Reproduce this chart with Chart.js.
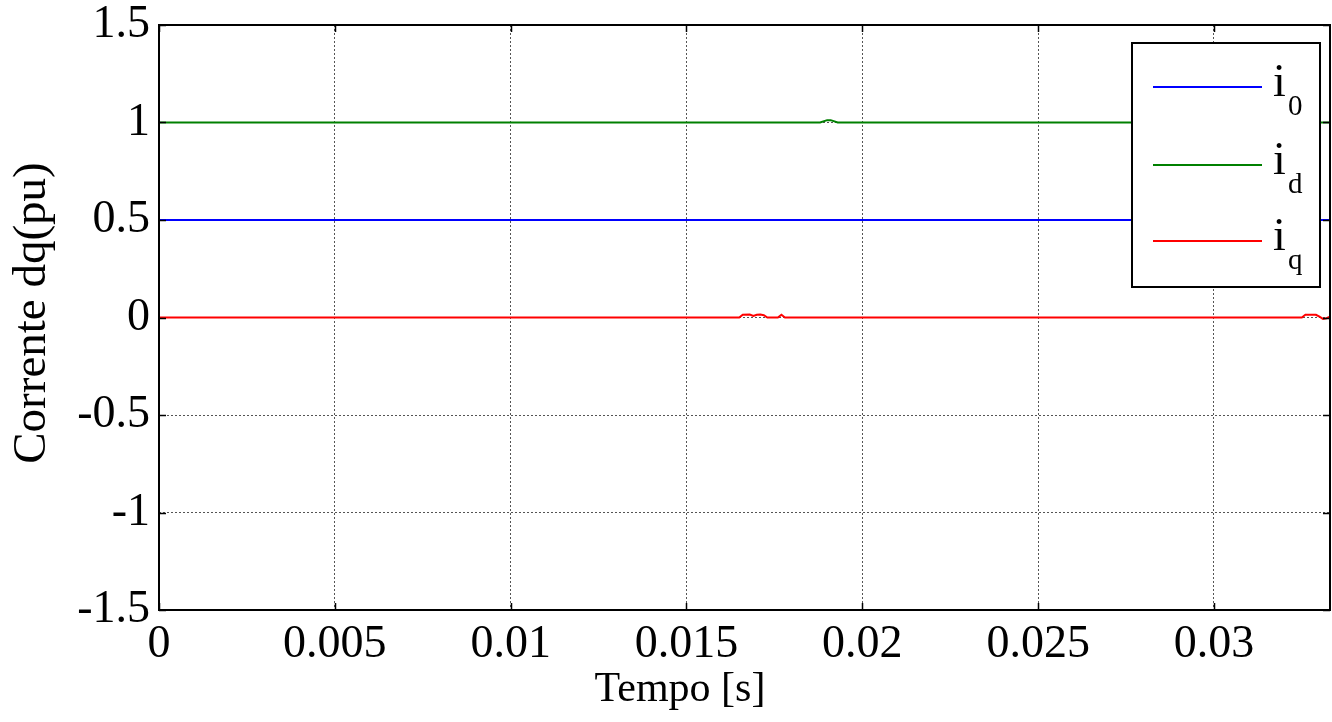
<!DOCTYPE html>
<html>
<head>
<meta charset="utf-8">
<script src="https://cdn.jsdelivr.net/npm/chart.js@4/dist/chart.umd.min.js"></script>
<style>
    html, body { margin: 0; padding: 0; background: #fff; }
    #wrap { width: 1332px; height: 722px; }
</style>
</head>
<body>
<div id="wrap"><canvas id="dqChart" width="1332" height="722"></canvas></div>
<script>
// Time samples and values
const tI0 = [0, 0.0333];
const i0 = [0.5, 0.5];

const tId = [0, 0.0188, 0.0190, 0.0191, 0.0193, 0.0333];
const id = [1, 1, 1.012, 1.012, 1, 1];

const tIq = [0, 0.0165, 0.0166, 0.0168, 0.0169, 0.0170, 0.0171, 0.0172, 0.0173,
    0.0176, 0.0177, 0.0178, 0.0325, 0.0326, 0.0329, 0.0330, 0.0331, 0.0332, 0.0333];
const iq = [0, 0, 0.014, 0.015, 0.008, 0.014, 0.015, 0.012, 0,
    0, 0.014, 0, 0, 0.014, 0.014, 0.004, -0.007, -0.004, 0.004];

const xTickValues = [0, 0.005, 0.01, 0.015, 0.02, 0.025, 0.03];
const xTickLabels = ['0', '0.005', '0.01', '0.015', '0.02', '0.025', '0.03'];
const yTickValues = [-1.5, -1, -0.5, 0, 0.5, 1, 1.5];
const yTickLabels = ['-1.5', '-1', '-0.5', '0', '0.5', '1', '1.5'];

const seriesNames = ['0', 'd', 'q'];
const seriesColors = ['#0000ff', '#008000', '#ff0000'];

const xTitle = 'Tempo [s]';
const yTitle = 'Corrente dq(pu)';

const serif = '"Liberation Serif", "Times New Roman", serif';

function toPoints(xs, ys) {
    return xs.map((x, i) => ({ x: x, y: ys[i] }));
}

// axes box, inward ticks, axis labels and the legend, matlab style
const axesBox = {
    id: 'axesBox',
    afterDraw(chart) {
        const ctx = chart.ctx;
        const a = chart.chartArea;
        const xs = chart.scales.x;
        const ys = chart.scales.y;
        ctx.save();
        ctx.strokeStyle = '#000';
        ctx.lineWidth = 2;
        ctx.strokeRect(a.left, a.top, a.right - a.left, a.bottom - a.top);

        ctx.lineWidth = 1.5;
        ctx.beginPath();
        xTickValues.forEach(v => {
            const px = Math.round(xs.getPixelForValue(v)) + 0.5;
            ctx.moveTo(px, a.bottom); ctx.lineTo(px, a.bottom - 7);
            ctx.moveTo(px, a.top); ctx.lineTo(px, a.top + 7);
        });
        yTickValues.forEach(v => {
            const py = Math.round(ys.getPixelForValue(v)) + 0.5;
            ctx.moveTo(a.left, py); ctx.lineTo(a.left + 7, py);
            ctx.moveTo(a.right, py); ctx.lineTo(a.right - 7, py);
        });
        ctx.stroke();

        // axis labels
        ctx.fillStyle = '#000';
        ctx.textAlign = 'center';
        ctx.textBaseline = 'middle';
        ctx.font = '42px ' + serif;
        ctx.fillText(xTitle, 680, 690);
        ctx.save();
        ctx.translate(33, 313);
        ctx.rotate(-Math.PI / 2);
        ctx.font = '47px ' + serif;
        ctx.fillText(yTitle, 0, 0);
        ctx.restore();

        // legend box
        const bx = 1132, by = 43, bw = 188, bh = 244;
        ctx.fillStyle = '#fff';
        ctx.fillRect(bx, by, bw, bh);
        ctx.lineWidth = 2;
        ctx.strokeStyle = '#000';
        ctx.strokeRect(bx, by, bw, bh);

        const rowY = [87, 165, 241];
        seriesNames.forEach((name, i) => {
            ctx.strokeStyle = seriesColors[i];
            ctx.lineWidth = 2;
            ctx.beginPath();
            ctx.moveTo(1153, rowY[i]);
            ctx.lineTo(1262, rowY[i]);
            ctx.stroke();
            ctx.fillStyle = '#000';
            ctx.textAlign = 'left';
            ctx.textBaseline = 'alphabetic';
            ctx.font = '46px ' + serif;
            ctx.fillText('i', 1273, rowY[i] + 9);
            ctx.font = '29px ' + serif;
            ctx.fillText(name, 1288, rowY[i] + 28);
        });
        ctx.restore();
    }
};

const ctx = document.getElementById('dqChart').getContext('2d');
new Chart(ctx, {
    type: 'line',
    data: {
        datasets: [
            { label: 'i0', data: toPoints(tI0, i0), borderColor: seriesColors[0] },
            { label: 'id', data: toPoints(tId, id), borderColor: seriesColors[1] },
            { label: 'iq', data: toPoints(tIq, iq), borderColor: seriesColors[2] }
        ]
    },
    options: {
        responsive: false,
        animation: false,
        events: [],
        layout: { padding: { top: 25, right: 2, left: 0, bottom: 0 } },
        elements: {
            line: { borderWidth: 2, tension: 0, fill: false },
            point: { radius: 0 }
        },
        plugins: {
            legend: { display: false },
            tooltip: { enabled: false }
        },
        scales: {
            x: {
                type: 'linear',
                min: 0,
                max: 0.0333,
                afterBuildTicks: s => { s.ticks = xTickValues.map(v => ({ value: v })); },
                afterFit: s => { s.height = 112; s.paddingLeft = 0; s.paddingRight = 0; },
                ticks: {
                    color: '#000',
                    font: { family: serif, size: 46, lineHeight: 1 },
                    padding: 12,
                    maxRotation: 0,
                    autoSkip: false,
                    callback: (v, i) => xTickLabels[i]
                },
                grid: { color: '#555', lineWidth: 1, drawTicks: false },
                border: { display: false, dash: [2, 2] }
            },
            y: {
                type: 'linear',
                min: -1.5,
                max: 1.5,
                afterBuildTicks: s => { s.ticks = yTickValues.map(v => ({ value: v })); },
                afterFit: s => { s.width = 159; s.paddingTop = 0; s.paddingBottom = 0; },
                ticks: {
                    color: '#000',
                    font: { family: serif, size: 46, lineHeight: 1 },
                    padding: 9,
                    autoSkip: false,
                    callback: (v, i) => yTickLabels[i]
                },
                grid: { color: '#555', lineWidth: 1, drawTicks: false },
                border: { display: false, dash: [2, 2] }
            }
        }
    },
    plugins: [axesBox]
});
</script>
</body>
</html>
